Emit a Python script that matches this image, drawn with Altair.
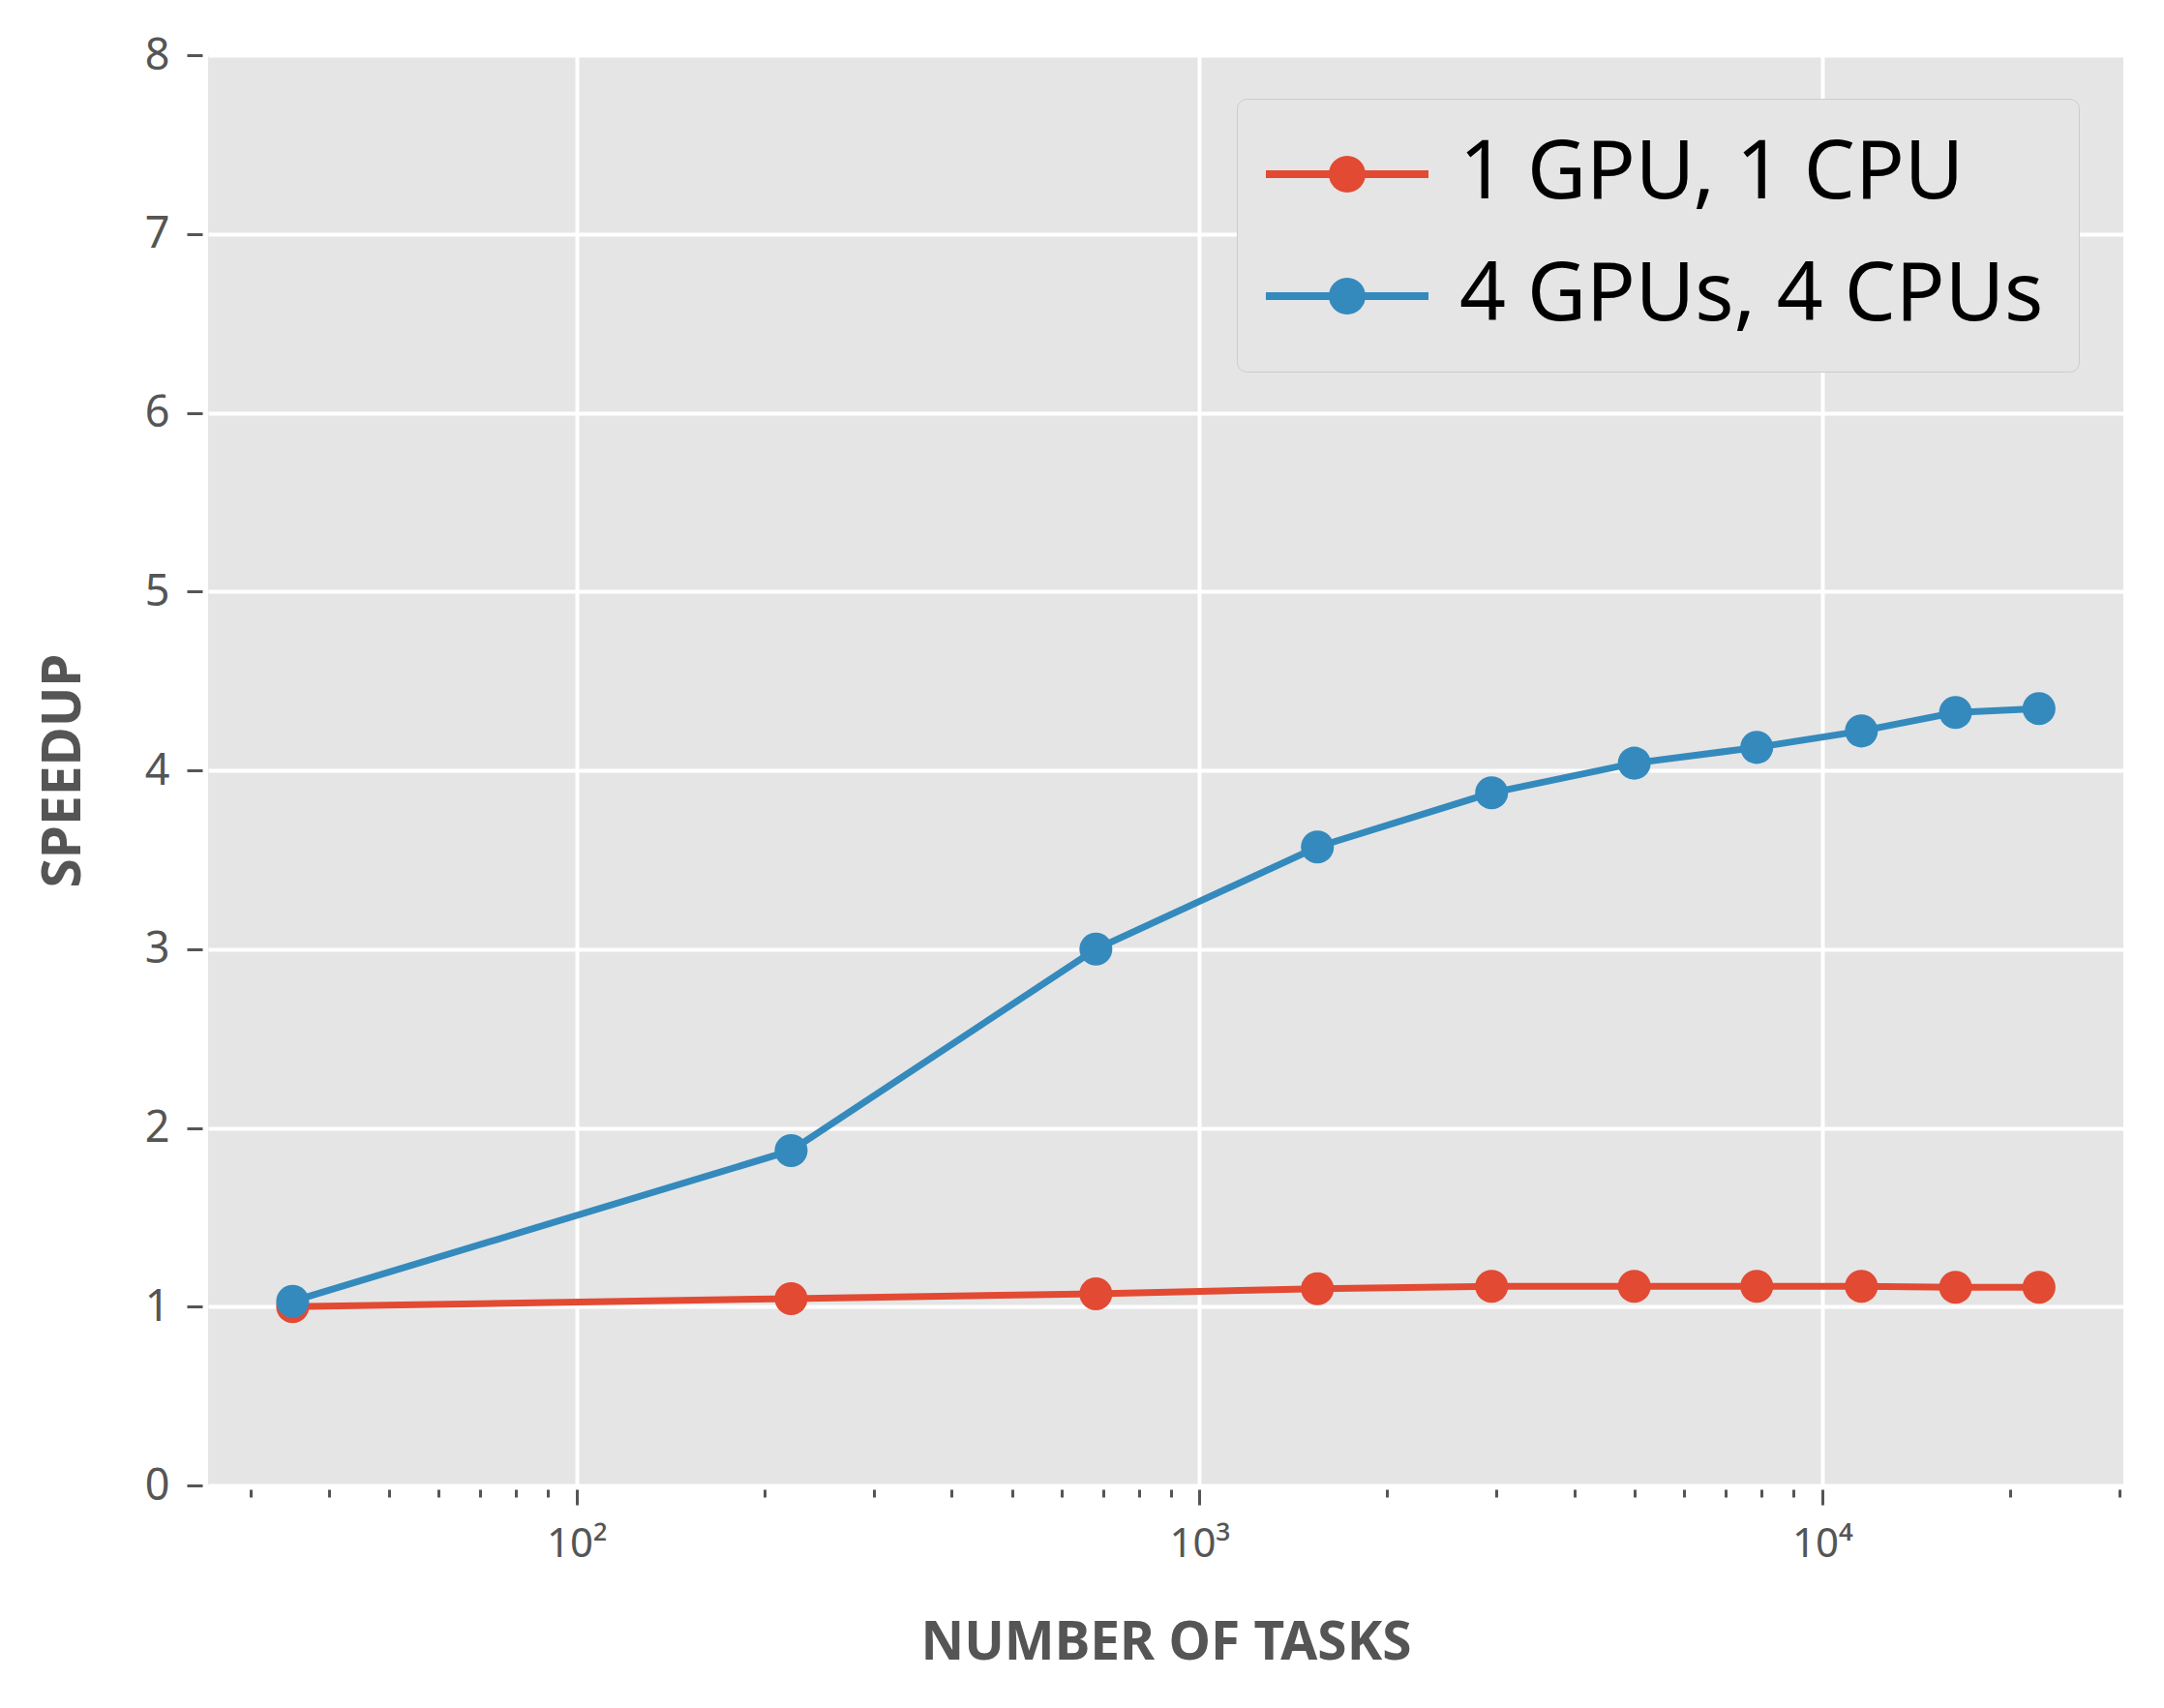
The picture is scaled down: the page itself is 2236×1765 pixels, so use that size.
import altair as alt
import pandas as pd

# ---- data ----
tasks = [35, 221, 682, 1547, 2946, 4992, 7851, 11560, 16370, 22290]
speedup_1gpu = [1.00, 1.045, 1.072, 1.10, 1.114, 1.114, 1.114, 1.114, 1.108, 1.108]
speedup_4gpu = [1.03, 1.873, 3.00, 3.571, 3.874, 4.04, 4.128, 4.22, 4.323, 4.345]
series = ["1 GPU, 1 CPU", "4 GPUs, 4 CPUs"]
colors = ["#E24A33", "#348ABD"]
x_major = [100, 1000, 10000]
x_minor = [30, 40, 50, 60, 70, 80, 90,
           200, 300, 400, 500, 600, 700, 800, 900,
           2000, 3000, 4000, 5000, 6000, 7000, 8000, 9000,
           20000, 30000]
y_ticks = [0, 1, 2, 3, 4, 5, 6, 7, 8]

df = pd.DataFrame({
    "tasks": tasks + tasks,
    "speedup": speedup_1gpu + speedup_4gpu,
    "series": [series[0]] * len(tasks) + [series[1]] * len(tasks),
})

FONT = "Noto Sans"
GREY = "#555555"
W, H = 1979, 1478

major_test = "datum.value == 100 || datum.value == 1000 || datum.value == 10000"

x_axis = alt.Axis(
    values=sorted(x_major + x_minor),
    labelExpr="datum.value == 100 ? '10²' : datum.value == 1000 ? '10³' : datum.value == 10000 ? '10⁴' : ''",
    tickSize={"condition": {"test": major_test, "value": 16}, "value": 8},
    tickWidth=3, tickColor=GREY, offset=4, domain=False,
    grid=True, gridColor="white", gridWidth=4,
    gridOpacity={"condition": {"test": major_test, "value": 1}, "value": 0},
    labelFont=FONT, labelFontSize=42, labelColor=GREY, labelPadding=20,
    labelOverlap=False, labelFlush=False,
    title="NUMBER OF TASKS", titleFont=FONT, titleFontSize=55,
    titleFontWeight="bold", titleColor=GREY,
    titleX=W / 2, titleY=158, titleBaseline="middle", titleAlign="center",
)

y_axis = alt.Axis(
    values=y_ticks, format="d",
    tickSize=16, tickWidth=3, tickColor=GREY, offset=6, domain=False,
    grid=True, gridColor="white", gridWidth=4,
    labelFont=FONT, labelFontSize=45, labelColor=GREY, labelPadding=18,
    title="SPEEDUP", titleFont=FONT, titleFontSize=55,
    titleFontWeight="bold", titleColor=GREY,
    titleX=-144, titleY=H / 2, titleAngle=270, titleBaseline="middle", titleAlign="center",
)

x_enc = alt.X("tasks:Q", scale=alt.Scale(type="log", domain=[25.6, 30450], nice=False), axis=x_axis)
y_enc = alt.Y("speedup:Q", scale=alt.Scale(domain=[0, 8], nice=False, zero=False), axis=y_axis)
color_scale = alt.Scale(domain=series, range=colors)

legend_symbol = ("M-1.143,-0.095L2.857,-0.095L2.857,0.095L-1.143,0.095Z "
                 "M0.405,0A0.452,0.452,0,1,1,1.309,0A0.452,0.452,0,1,1,0.405,0Z")

legend = alt.Legend(
    title=None, orient="none", legendX=1063, legendY=45,
    symbolType=legend_symbol, symbolSize=7056, symbolStrokeWidth=0,
    symbolOpacity=1,
    labelFont=FONT, labelFontSize=84, labelColor="black", labelOffset=110,
    labelLimit=1000,
    rowPadding=42, padding=36,
    fillColor="#E5E5E5", strokeColor="#CCCCCC", cornerRadius=10,
)

layers = []
for s, c in zip(series, colors):
    base = alt.Chart(df).transform_filter(alt.datum.series == s)
    line = base.mark_line(strokeWidth=7, color=c).encode(x=x_enc, y=y_enc)
    pts = base.mark_circle(size=1160, opacity=1).encode(
        x=x_enc, y=y_enc,
        color=alt.Color("series:N", scale=color_scale, legend=legend),
    )
    layers += [line, pts]

chart = alt.layer(*layers).properties(
    width=W, height=H,
    autosize=alt.AutoSizeParams(type="none"),
    padding={"left": 215, "top": 57, "right": 42, "bottom": 230},
    background="white",
).configure_view(fill="#E5E5E5", strokeWidth=0)

chart.save("out.html", embed_options={"renderer": "svg", "actions": False})
